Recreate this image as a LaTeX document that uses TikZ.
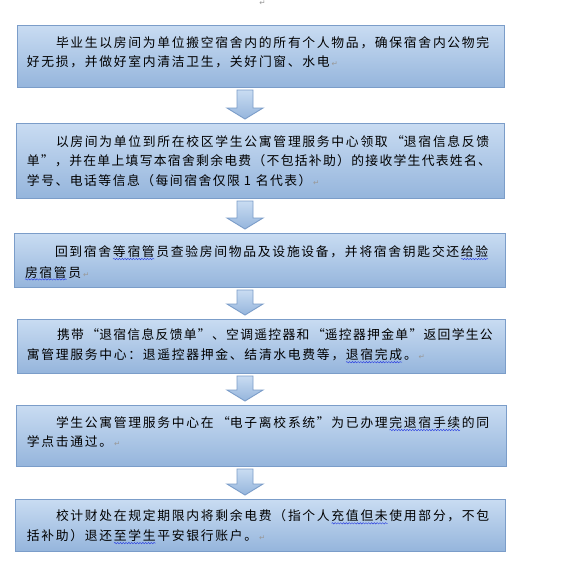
\documentclass[tikz,border=0pt]{standalone}
\usepackage{fontspec}
\newfontfamily\cjk{Noto Sans CJK SC}
\newfontfamily\dvs{DejaVu Sans}
\usetikzlibrary{calc,decorations.pathmorphing}
\definecolor{boxtop}{HTML}{C9DCF2}
\definecolor{boxbot}{HTML}{95B5DC}
\definecolor{boxline}{HTML}{7B9DC9}
\definecolor{wavcol}{HTML}{2B3FE0}
\def\cwd{14.5}
\def\clend{CLEND}
\def\onecell{\hfil1\hfil}
\newcommand\cl[2][\cwd]{\def\curw{#1}\clloop#2\clend}
\def\clloop#1{\ifx\clend#1\else\makebox[\curw pt][l]{#1}\expandafter\clloop\fi}
\newcommand\pmark{{\dvs\fontsize{7.5}{8}\selectfont\textcolor{black!40}{↵}}}
\newcommand\barrow[2]{\shade[arr] let \p1=(#1.south), \p2=(#2.north) in
  (237pt,\y1-3pt) -- (253pt,\y1-3pt) -- (253pt,\y2+15pt) -- (263pt,\y2+15pt)
  -- (245pt,\y2+4pt) -- (227pt,\y2+15pt) -- (237pt,\y2+15pt) -- cycle;}
\newcommand\wav[3]{\draw[wavy] ($(#1.base west)+({#2*14.5},2.4)$) -- ($(#1.base west)+({(#3+1)*14.5-2},2.4)$);}
\begin{document}
\begin{tikzpicture}[x=1pt,y=-1pt,
  box/.style={rectangle, anchor=north west, draw=boxline, line width=1pt,
    top color=boxtop, bottom color=boxbot, inner sep=0pt, outer sep=0pt},
  arr/.style={draw=boxline, line width=0.9pt, top color=boxtop, bottom color=boxbot, line join=miter},
  txt/.style={anchor=base west, inner sep=0pt, outer sep=0pt,
    font=\cjk\fontsize{12.8}{14}\selectfont, text=black},
  pm/.style={inner sep=0pt, font=\dvs\fontsize{7.5}{8}\selectfont, text=black!40},
  wavy/.style={draw=wavcol, line width=0.45pt, decorate,
    decoration={snake, amplitude=0.7pt, segment length=2.8pt}}]
\fill[white] (0,0) rectangle (575,573);
\useasboundingbox (0,0) rectangle (575,573);

\node[pm, anchor=north] (topmark) at (262.5,0.5) {↵};

% boxes
\node[box, minimum width=487pt, minimum height=62pt] (b1) at (17,25) {};
\node[box, minimum width=488pt, minimum height=75pt] (b2) at (16,123) {};
\node[box, minimum width=491pt, minimum height=54pt] (b3) at (14,233) {};
\node[box, minimum width=488pt, minimum height=54pt] (b4) at (17,319) {};
\node[box, minimum width=490pt, minimum height=61pt] (b5) at (16,405) {};
\node[box, minimum width=490pt, minimum height=52pt] (b6) at (15,499) {};

% arrows
\barrow{b1}{b2}
\barrow{b2}{b3}
\barrow{b3}{b4}
\barrow{b4}{b5}
\barrow{b5}{b6}

% texts
\node[txt] (t1a) at (56,47.6) {\cl{毕业生以房间为单位搬空宿舍内的所有个人物品，确保宿舍内公物完}};
\node[txt] (t1b) at (27,66.8) {\cl{好无损，并做好室内清洁卫生，关好门窗、水电}\pmark};

\node[txt] (t2a) at (56,146.6) {\cl{以房间为单位到所在校区学生公寓管理服务中心领取{\hfill“}退宿信息反馈}};
\node[txt] (t2b) at (27,165.8) {\cl[14.1]{单”，并在单上填写本宿舍剩余电费（不包括补助）的接收学生代表姓名、}};
\node[txt] (t2c) at (27,185) {\cl[14.3]{学号、电话等信息（每间宿舍仅限{\onecell}名代表）}\pmark};

\node[txt] (t3a) at (55,256.6) {\cl{回到宿舍等宿管员查验房间物品及设施设备，并将宿舍钥匙交还给验}};
\node[txt] (t3b) at (25,277) {\cl{房宿管员}\pmark};

\node[txt] (t4a) at (57,339.2) {\cl[14.1]{携带{\hfill“}退宿信息反馈单”、空调遥控器和{\hfill“}遥控器押金单”返回学生公}};
\node[txt] (t4b) at (27,359.8) {\cl{寓管理服务中心：退遥控器押金、结清水电费等，退宿完成。}\pmark};

\node[txt] (t5a) at (56,427.6) {\cl{学生公寓管理服务中心在{\hfill“}电子离校系统”为已办理完退宿手续的同}};
\node[txt] (t5b) at (27,446.8) {\cl{学点击通过。}\pmark};

\node[txt] (t6a) at (56,520.9) {\cl{校计财处在规定期限内将剩余电费（指个人充值但未使用部分，不包}};
\node[txt] (t6b) at (27,540.7) {\cl{括补助）退还至学生平安银行账户。}\pmark};

% wavy marks
\wav{t3a}{4}{6}
\wav{t3a}{28}{29}
\wav{t3b}{0}{2}
\wav{t4b}{22}{25}
\wav{t5a}{23}{27}
\wav{t6a}{19}{22}
\wav{t6b}{6}{8}
\end{tikzpicture}
\end{document}
